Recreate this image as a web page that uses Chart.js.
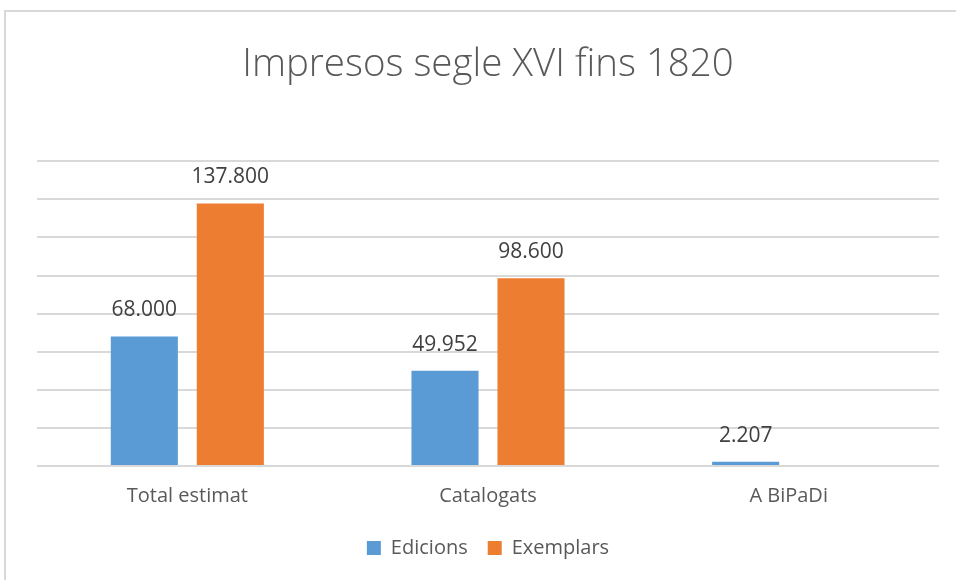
<!DOCTYPE html>
<html>
<head>
<meta charset="utf-8">
<script src="https://cdn.jsdelivr.net/npm/chart.js@4/dist/chart.umd.min.js"></script>
<style>
    body { margin: 0; background: #ffffff; }
    #grafic { display: block; }
</style>
</head>
<body>
<canvas id="grafic" width="956" height="580"></canvas>
<script>
var categories = ["Total estimat", "Catalogats", "A BiPaDi"];
var edicions = [68000, 49952, 2207];
var exemplars = [137800, 98600, null];
var series = ["Edicions", "Exemplars"];
var titol = "Impresos segle XVI fins 1820";

var ctx = document.getElementById('grafic').getContext('2d');

// numeros amb punt de milers, com a l'original
function formatNum(v) {
    return String(v).replace(/\B(?=(\d{3})+(?!\d))/g, ".");
}

// marc gris de l'area del grafic
var marc = {
    id: 'marc',
    beforeDraw: function (chart) {
        var c = chart.ctx;
        c.save();
        c.fillStyle = "#ffffff";
        c.fillRect(0, 0, chart.width, chart.height);
        c.strokeStyle = "#d9d9d9";
        c.lineWidth = 2;
        c.strokeRect(5, 11, 1200, 1200);
        c.restore();
    }
};

// etiquetes de valor damunt de cada barra
var etiquetes = {
    id: 'etiquetes',
    afterDatasetsDraw: function (chart) {
        var c = chart.ctx;
        c.save();
        c.font = "21px 'Open Sans'";
        c.fillStyle = "#404040";
        c.textAlign = "center";
        c.textBaseline = "middle";
        chart.data.datasets.forEach(function (ds, i) {
            var meta = chart.getDatasetMeta(i);
            meta.data.forEach(function (bar, j) {
                if (ds.data[j] === null) return;
                c.fillText(formatNum(ds.data[j]), bar.x, bar.y - 26);
            });
        });
        c.restore();
    }
};

var myChart = new Chart(ctx, {
    type: 'bar',
    data: {
        labels: categories,
        datasets: [{
            label: series[0],
            data: edicions,
            backgroundColor: "#5b9bd5",
            barPercentage: 0.78,
            categoryPercentage: 0.572
        }, {
            label: series[1],
            data: exemplars,
            backgroundColor: "#ed7d31",
            barPercentage: 0.78,
            categoryPercentage: 0.572
        }]
    },
    options: {
        responsive: false,
        animation: false,
        layout: {
            padding: { left: 37, right: 17, top: 42, bottom: 12 }
        },
        plugins: {
            title: {
                display: true,
                text: titol,
                color: "#595959",
                font: { family: "'Open Sans'", size: 38.5, weight: '300' },
                padding: { top: 0, bottom: 73 }
            },
            legend: {
                position: 'bottom',
                labels: {
                    color: "#595959",
                    font: { family: "'Open Sans'", size: 20 },
                    boxWidth: 14,
                    boxHeight: 14,
                    padding: 20
                }
            },
            tooltip: { enabled: false }
        },
        scales: {
            x: {
                grid: { display: false },
                border: { display: false },
                ticks: {
                    color: "#595959",
                    font: { family: "'Open Sans'", size: 20 },
                    padding: 10
                }
            },
            y: {
                min: 0,
                max: 160000,
                ticks: { display: false, stepSize: 20000 },
                grid: { color: "#d9d9d9", lineWidth: 2, drawTicks: false },
                border: { display: false }
            }
        }
    },
    plugins: [marc, etiquetes]
});
</script>
</body>
</html>
